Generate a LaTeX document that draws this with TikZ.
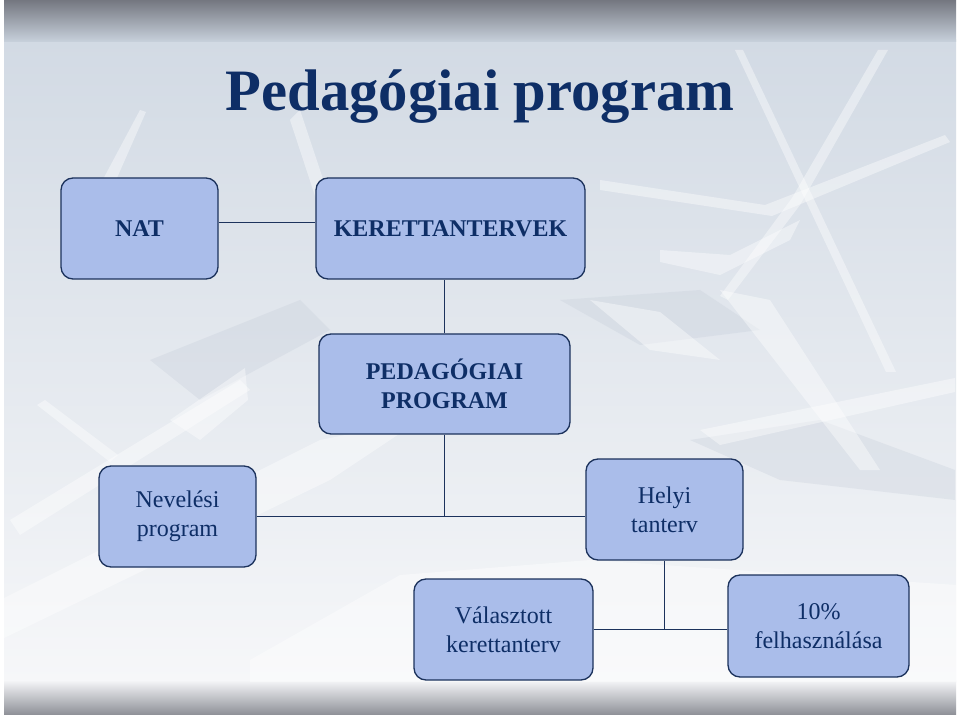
\documentclass[tikz,border=0pt]{standalone}
\usepackage{fontspec}
\setmainfont{Liberation Serif}
\usetikzlibrary{positioning}
\definecolor{boxfill}{RGB}{170,189,234}
\definecolor{boxline}{RGB}{28,50,92}
\definecolor{navytext}{RGB}{14,46,102}
\definecolor{bandgrey}{RGB}{116,119,128}
\definecolor{bandlight}{RGB}{200,209,220}
\definecolor{fieldtop}{RGB}{210,218,228}
\definecolor{fieldlow}{RGB}{246,247,249}
\definecolor{icegrey}{RGB}{196,204,216}
\tikzstyle{unit} = [rectangle, rounded corners=9pt, draw=boxline, line width=1pt, fill=boxfill, text=navytext, align=center, inner sep=0pt, font=\fontsize{18}{21.6}\selectfont]
\tikzstyle{boldunit} = [unit, font=\fontsize{18}{21.6}\selectfont\bfseries]
\tikzstyle{link} = [draw=boxline, line width=1.1pt]
\tikzstyle{ice} = [fill=white, opacity=0.4]
\tikzstyle{shadow ice} = [fill=icegrey, opacity=0.3]

\begin{document}
\begin{tikzpicture}[x=0.75pt, y=-0.75pt]
\useasboundingbox (0,0) rectangle (960,716);

% Background
\fill[white] (0,0) rectangle (960,716);
\shade[top color=fieldtop, bottom color=fieldlow] (4,40) rectangle (956,682);
\shade[top color=bandgrey, bottom color=bandlight] (4,0) rectangle (956,42);
\shade[top color=fieldlow, bottom color=bandgrey!80] (4,680) rectangle (956,714);
\fill[shadow ice] (560,300) -- (700,290) -- (760,330) -- (640,345) -- cycle;
\fill[shadow ice] (690,440) -- (820,420) -- (955,470) -- (955,500) -- (780,480) -- cycle;
\fill[shadow ice] (150,360) -- (300,300) -- (330,330) -- (200,400) -- cycle;
\fill[ice] (735,50) -- (743,50) -- (896,372) -- (886,372) -- cycle;
\fill[ice] (878,50) -- (888,50) -- (800,205) -- (728,300) -- (720,296) -- (792,198) -- cycle;
\fill[ice] (600,180) -- (765,205) -- (945,135) -- (950,142) -- (772,216) -- (600,190) -- cycle;
\fill[ice] (660,250) -- (730,255) -- (800,220) -- (790,240) -- (720,275) -- (660,262) -- cycle;
\fill[ice] (700,430) -- (955,378) -- (955,392) -- (720,445) -- cycle;
\fill[ice] (720,290) -- (770,300) -- (880,470) -- (860,470) -- cycle;
\fill[ice] (37,405) -- (45,400) -- (118,455) -- (110,462) -- cycle;
\fill[ice] (10,520) -- (240,380) -- (250,390) -- (20,535) -- cycle;
\fill[ice] (170,420) -- (245,368) -- (248,400) -- (200,440) -- cycle;
\fill[ice] (0,600) -- (320,440) -- (420,420) -- (330,480) -- (0,640) -- cycle;
\fill[ice] (250,660) -- (400,575) -- (590,560) -- (956,585) -- (956,682) -- (250,682) -- cycle;
\fill[ice] (60,260) -- (140,110) -- (146,112) -- (80,262) -- cycle;
\fill[ice] (290,120) -- (300,110) -- (330,200) -- (318,205) -- cycle;
\fill[ice] (590,300) -- (660,312) -- (720,360) -- (650,350) -- cycle;

% Title
\node[anchor=base, text=navytext, font=\fontsize{44}{52.8}\selectfont\bfseries] (title) at (480,111) {Pedagógiai program};

% Nodes
\node (nat) [boldunit, minimum width=117.75pt, minimum height=75.75pt] at (139.5,228.5) {NAT};
\node (kerettanterv) [boldunit, minimum width=201.75pt, minimum height=75.75pt] at (450.5,228.5) {KERETTANTERVEK};
\node (pedprog) [boldunit, minimum width=188.25pt, minimum height=75pt] at (444.5,384) {PEDAGÓGIAI \\ PROGRAM};
\node (neveles) [unit, minimum width=117.75pt, minimum height=75.75pt] at (177.5,516.5) {Nevelési \\ program};
\node (helyi) [unit, minimum width=117.75pt, minimum height=75.75pt] at (664.5,509.5) {Helyi \\ tanterv};
\node (valasztott) [unit, minimum width=134.25pt, minimum height=75.75pt] at (503.5,629.5) {Választott \\ kerettanterv};
\node (tizszazalek) [unit, minimum width=135.75pt, minimum height=76.5pt] at (818.5,626) {10\% \\ felhasználása};

% Lines
\draw [link] ([yshift=4.5pt]nat.east) -- ([yshift=4.5pt]kerettanterv.west);
\draw [link] (pedprog.north) -- (pedprog.north |- kerettanterv.south);
\coordinate (split) at (pedprog.south |- neveles.east);
\draw [link] (pedprog.south) -- (split);
\draw [link] (neveles.east) -- (neveles.east -| helyi.west);
\coordinate (branch) at (helyi.south |- valasztott.east);
\draw [link] (helyi.south) -- (branch);
\draw [link] (valasztott.east) -- (valasztott.east -| tizszazalek.west);

\end{tikzpicture}
\end{document}
